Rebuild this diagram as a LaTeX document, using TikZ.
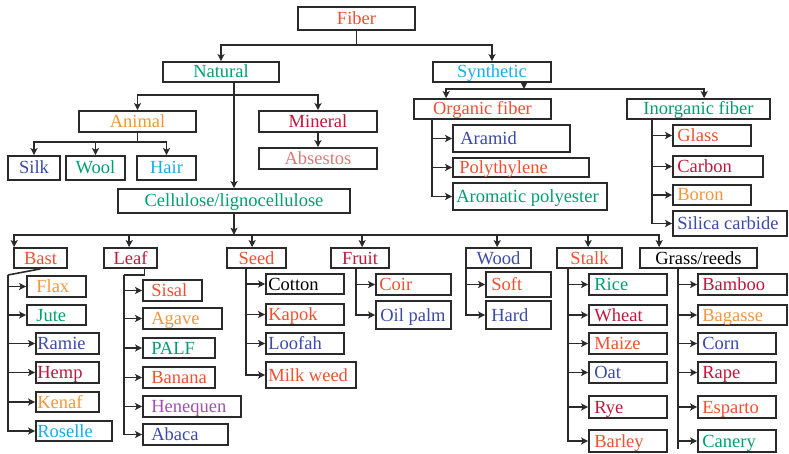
\documentclass[tikz,border=0pt]{standalone}
\usepackage{fontspec}
\setmainfont{Liberation Serif}
\usetikzlibrary{arrows.meta}
\definecolor{cred}{HTML}{F05032}
\definecolor{cgreen}{HTML}{00A06E}
\definecolor{ccyan}{HTML}{14AFE6}
\definecolor{corange}{HTML}{F5963C}
\definecolor{ccrim}{HTML}{BE193C}
\definecolor{crose}{HTML}{E07878}
\definecolor{cblue}{HTML}{3C4BA5}
\definecolor{cpurple}{HTML}{A050B0}
\definecolor{cline}{HTML}{2A2A2A}
\tikzset{
  box/.style={draw=cline, line width=1.7pt, inner sep=0pt, rectangle},
  lbl/.style={inner sep=0pt, font=\fontsize{18.5}{20}\selectfont},
  conn/.style={draw=cline, line width=1.6pt},
  arr/.style={conn, -{Stealth[length=7pt,width=7pt,inset=1.5pt]}},
}
% left aligned box: name, x1, y1, x2, y2, pad, colour, text
\newcommand\mybox[8]{%
  \node[box, minimum width={(#4)-(#2)}, minimum height={(#5)-(#3)}] (#1) at ({((#2)+(#4))/2},{((#3)+(#5))/2}) {};
  \node[lbl, text=#7, anchor=base west] (#1-t) at ([xshift=#6pt, yshift=-6pt]#1.west) {#8};
}
% centred box: name, x1, y1, x2, y2, colour, text
\newcommand\mycbox[7]{%
  \node[box, minimum width={(#4)-(#2)}, minimum height={(#5)-(#3)}] (#1) at ({((#2)+(#4))/2},{((#3)+(#5))/2}) {};
  \node[lbl, text=#6, anchor=base] (#1-t) at ([yshift=-6pt]#1.center) {#7};
}
\begin{document}
\begin{tikzpicture}[x=1pt,y=-1pt]
\fill[white] (0,0) rectangle (789,454);
\useasboundingbox (0,0) rectangle (789,454);

% top levels
\mycbox{fiber}{298}{7}{415}{30}{cred}{Fiber}
\mycbox{natural}{163}{62}{279}{82}{cgreen}{Natural}
\mycbox{synthetic}{433}{62}{551}{82}{ccyan}{Synthetic}
\mycbox{animal}{79}{111}{196}{132}{corange}{Animal}
\mycbox{mineral}{259}{111}{377}{132}{ccrim}{Mineral}
\mycbox{absestos}{259}{148}{377}{169}{crose}{Absestos}
\mycbox{silk}{8}{156}{60}{180}{cblue}{Silk}
\mycbox{wool}{66}{156}{125}{180}{cgreen}{Wool}
\mycbox{hair}{137}{156}{196}{180}{ccyan}{Hair}
\mycbox{cellu}{118}{189}{350}{213}{cgreen}{Cellulose/lignocellulose}
\mycbox{organic}{414}{99}{551}{119}{cred}{Organic fiber}
\mycbox{inorganic}{627}{99}{770}{119}{cgreen}{Inorganic fiber}

\mybox{aramid}{453}{125}{570}{152}{8}{cblue}{Aramid}
\mybox{polythylene}{453}{158}{589}{177}{7}{cred}{Polythylene}
\mybox{aromatic}{453}{183}{607}{210}{4}{cgreen}{Aromatic polyester}
\mybox{glass}{673}{125}{751}{146}{5}{cred}{Glass}
\mybox{carbon}{673}{156}{763}{177}{5}{ccrim}{Carbon}
\mybox{boron}{673}{185}{751}{205}{5}{corange}{Boron}
\mybox{silica}{673}{211}{787}{236}{5}{cblue}{Silica carbide}

% bottom categories
\mycbox{bast}{14}{248}{67}{268}{cred}{Bast}
\mycbox{leaf}{104}{248}{157}{268}{ccrim}{Leaf}
\mycbox{seed}{227}{248}{286}{268}{cred}{Seed}
\mycbox{fruit}{331}{248}{389}{268}{ccrim}{Fruit}
\mycbox{wood}{466}{248}{531}{268}{cblue}{Wood}
\mycbox{stalk}{557}{248}{622}{268}{cred}{Stalk}
\mycbox{grass}{640}{248}{757}{268}{black}{Grass/reeds}

% bast
\mybox{flax}{27}{276}{86}{297}{10}{corange}{Flax}
\mybox{jute}{27}{305}{86}{325}{10}{cgreen}{Jute}
\mybox{ramie}{36}{333}{99}{354}{2}{cblue}{Ramie}
\mybox{hemp}{36}{362}{99}{383}{2}{ccrim}{Hemp}
\mybox{kenaf}{36}{392}{99}{412}{2}{corange}{Kenaf}
\mybox{roselle}{36}{421}{112}{441}{2}{ccyan}{Roselle}
% leaf
\mybox{sisal}{143}{280}{202}{301}{9}{cred}{Sisal}
\mybox{agave}{143}{308}{222}{329}{9}{corange}{Agave}
\mybox{palf}{143}{338}{215}{358}{9}{cgreen}{PALF}
\mybox{banana}{143}{367}{215}{388}{9}{cred}{Banana}
\mybox{henequen}{143}{396}{241}{417}{9}{cpurple}{Henequen}
\mybox{abaca}{143}{424}{228}{445}{9}{cblue}{Abaca}
% seed
\mybox{cotton}{266}{274}{344}{294}{3}{black}{Cotton}
\mybox{kapok}{266}{304}{344}{325}{3}{cred}{Kapok}
\mybox{loofah}{266}{333}{344}{354}{3}{cblue}{Loofah}
\mybox{milkweed}{266}{362}{356}{388}{3}{cred}{Milk weed}
% fruit
\mybox{coir}{376}{274}{451}{295}{4}{cred}{Coir}
\mybox{oilpalm}{376}{301}{451}{329}{5}{cblue}{Oil palm}
% wood
\mybox{soft}{486}{272}{551}{297}{6}{cred}{Soft}
\mybox{hard}{486}{301}{551}{329}{6}{cblue}{Hard}
% stalk
\mybox{rice}{589}{274}{667}{295}{6}{cgreen}{Rice}
\mybox{wheat}{589}{305}{667}{325}{6}{ccrim}{Wheat}
\mybox{maize}{589}{333}{667}{354}{6}{cred}{Maize}
\mybox{oat}{589}{362}{667}{383}{6}{cblue}{Oat}
\mybox{rye}{589}{396}{667}{418}{6}{ccrim}{Rye}
\mybox{barley}{589}{430}{667}{452}{6}{cred}{Barley}
% grass
\mybox{bamboo}{698}{274}{787}{295}{5}{ccrim}{Bamboo}
\mybox{bagasse}{698}{305}{787}{325}{5}{corange}{Bagasse}
\mybox{corn}{698}{333}{776}{354}{5}{cblue}{Corn}
\mybox{rape}{698}{362}{776}{383}{5}{ccrim}{Rape}
\mybox{esparto}{698}{396}{776}{418}{5}{cred}{Esparto}
\mybox{canery}{698}{430}{776}{452}{5}{cgreen}{Canery}

% connectors: top
\draw[arr] (fiber.south) -- ++(0,14) -| (natural.north);
\draw[arr] (fiber.south) ++(0,14) -| (synthetic.north);
\draw[arr] (natural.south -| cellu.north) -- (cellu.north);
\draw[arr] (natural.south -| cellu.north) ++(0,12) -| (animal.north);
\draw[arr] (natural.south -| cellu.north) ++(0,12) -| (mineral.north);
\draw[arr] (mineral.south) -- (absestos.north);
\draw[arr] (animal.south) -- ++(0,9) -| (silk.north);
\draw[arr] (animal.south) ++(0,9) -| (wool.north);
\draw[arr] (animal.south) ++(0,9) -| (hair.north);

% synthetic
\coordinate (sj) at (524,89);
\draw[arr] (synthetic.south -| sj) -- (sj);
\draw[arr] (sj) -| ([xshift=33pt]organic.north west);
\draw[arr] (sj) -| ([xshift=78pt]inorganic.north west);
\foreach \c in {aramid,polythylene,aromatic}
  \draw[arr] ([xshift=19pt]organic.south west) |- (\c.west);
\foreach \c in {glass,carbon,boron,silica}
  \draw[arr] ([xshift=26pt]inorganic.south west) |- (\c.west);

% cellulose
\draw[arr] (cellu.south) -- ++(0,21) coordinate (cj);
\draw[arr] (cj) -| ([xshift=1pt]bast.north west);
\draw[arr] (cj) -| ([xshift=26pt]leaf.north west);
\draw[arr] (cj) -| ([xshift=26pt]seed.north west);
\draw[arr] (cj) -| ([xshift=32pt]fruit.north west);
\draw[arr] (cj) -| ([xshift=32pt]wood.north west);
\draw[arr] (cj) -| ([xshift=32pt]stalk.north west);
\draw[arr] (cj) -| ([xshift=20pt]grass.north west);

% bast
\coordinate (bj) at (8,275);
\draw[conn] (bast.south) -- (bj);
\foreach \c in {flax,jute,ramie,hemp,kenaf,roselle}
  \draw[arr] (bj) |- (\c.west);
% leaf
\coordinate (lj) at (124,275);
\draw[conn] ([xshift=14pt]leaf.south) |- (lj);
\foreach \c in {sisal,agave,palf,banana,henequen,abaca}
  \draw[arr] (lj) |- (\c.west);
% seed
\foreach \c in {cotton,kapok,loofah,milkweed}
  \draw[arr] ([xshift=20pt]seed.south west) |- (\c.west);
% fruit
\foreach \c in {coir,oilpalm}
  \draw[arr] ([xshift=26pt]fruit.south west) |- (\c.west);
% wood
\foreach \c in {soft,hard}
  \draw[arr] ([xshift=1pt]wood.south west) |- (\c.west);
% stalk
\foreach \c in {rice,wheat,maize,oat,rye,barley}
  \draw[arr] ([xshift=12pt]stalk.south west) |- (\c.west);
% grass
\draw[conn] ([xshift=39pt]grass.south west) -- ++(0,180);
\foreach \c in {bamboo,bagasse,corn,rape,esparto,canery}
  \draw[arr] ([xshift=39pt]grass.south west) |- (\c.west);
\end{tikzpicture}
\end{document}
